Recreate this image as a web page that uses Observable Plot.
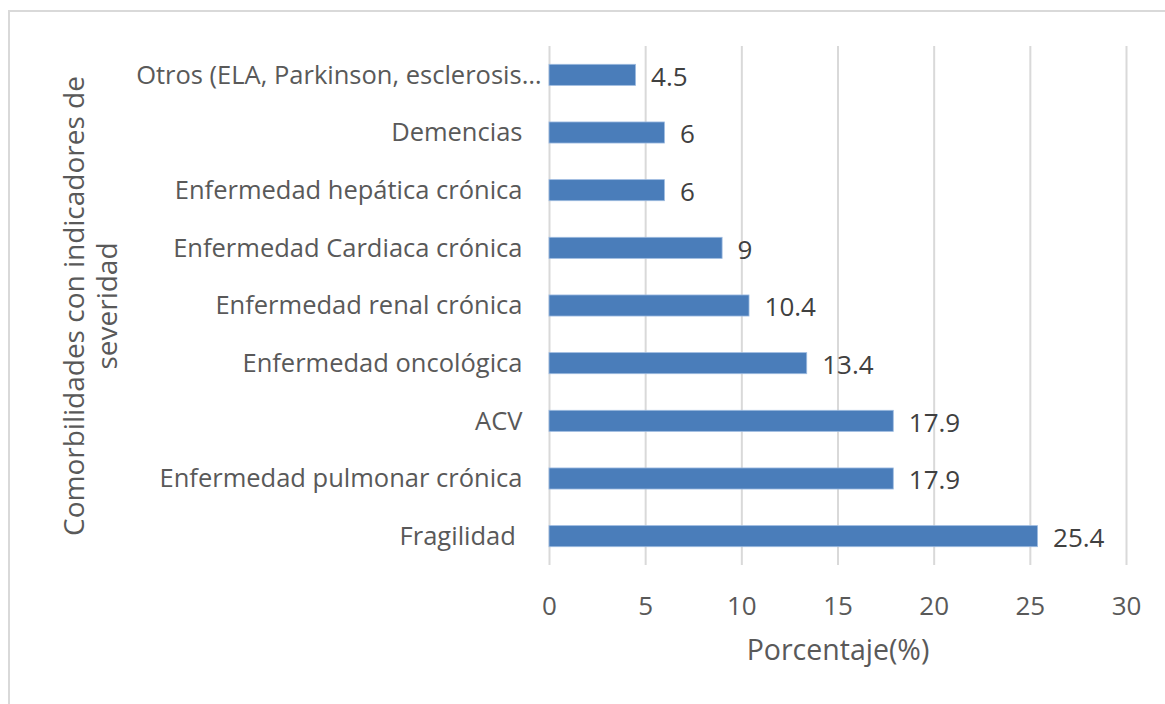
<!DOCTYPE html>
<html>
<head>
<meta charset="utf-8">
<script src="https://cdn.jsdelivr.net/npm/d3@7"></script>
<script src="https://cdn.jsdelivr.net/npm/@observablehq/plot@0.6"></script>
<style>
  html, body { margin: 0; padding: 0; background: #fff; }
  #wrap { position: relative; width: 1165px; height: 704px; overflow: hidden; }
  #frame { position: absolute; left: 8px; top: 10px; width: 1200px; height: 760px; border: 2px solid #d9d9d9; box-sizing: border-box; pointer-events: none; }
  #chart { position: absolute; left: 0; top: 0; }
</style>
</head>
<body>
<div id="wrap">
  <div id="chart"></div>
  <div id="frame"></div>
</div>
<script>
const categories = [
  "Otros (ELA, Parkinson, esclerosis\u2026",
  "Demencias",
  "Enfermedad hepática crónica",
  "Enfermedad Cardiaca crónica",
  "Enfermedad renal crónica",
  "Enfermedad oncológica",
  "ACV",
  "Enfermedad pulmonar crónica",
  "Fragilidad\u00a0"
];
const values = [4.5, 6, 6, 9, 10.4, 13.4, 17.9, 17.9, 25.4];
const xTicks = [0, 5, 10, 15, 20, 25, 30];
const xTitle = "Porcentaje(%)";
const yTitle = "Comorbilidades con indicadores de\nseveridad";

const data = categories.map((c, i) => ({category: c, value: values[i]}));
const font = "'Open Sans', Lato, sans-serif";

const chart = Plot.plot({
  width: 1165,
  height: 704,
  marginLeft: 549,
  marginRight: 39,
  marginTop: 46,
  marginBottom: 139,
  style: {fontFamily: font, fontSize: "25px", color: "#595959", background: "transparent"},
  x: {domain: [0, 30], ticks: xTicks, label: null},
  y: {domain: categories, label: null, padding: 0, round: false},
  marks: [
    Plot.gridX(xTicks, {stroke: "#d9d9d9", strokeOpacity: 1, strokeWidth: 2}),
    Plot.barX(data, {y: "category", x: "value", insetTop: 18.3, insetBottom: 18.3, fill: "#4a7dba", stroke: "#9dbbe0", strokeWidth: 0.8}),
    Plot.text(data, {y: "category", x: "value", text: d => String(d.value), textAnchor: "start", dx: 15, dy: 2, fill: "#404040", fontSize: 26}),
    Plot.axisX(xTicks, {tickSize: 0, tickPadding: 31, fontSize: 26, fill: "#595959", label: null}),
    Plot.axisY(categories.slice(1), {tickSize: 0, tickPadding: 27, fontSize: 25.5, fill: "#595959", label: null}),
    Plot.axisY(categories.slice(0, 1), {tickSize: 0, tickPadding: 8, fontSize: 25.5, fill: "#595959", label: null}),
    Plot.text([xTitle], {frameAnchor: "bottom", dy: 94, fontSize: 28.5, fill: "#595959"}),
    Plot.text([yTitle], {frameAnchor: "left", textAnchor: "middle", rotate: -90, dx: -460, fontSize: 28, lineHeight: 1.18, fill: "#595959"})
  ]
});
document.getElementById("chart").appendChild(chart);
</script>
</body>
</html>
